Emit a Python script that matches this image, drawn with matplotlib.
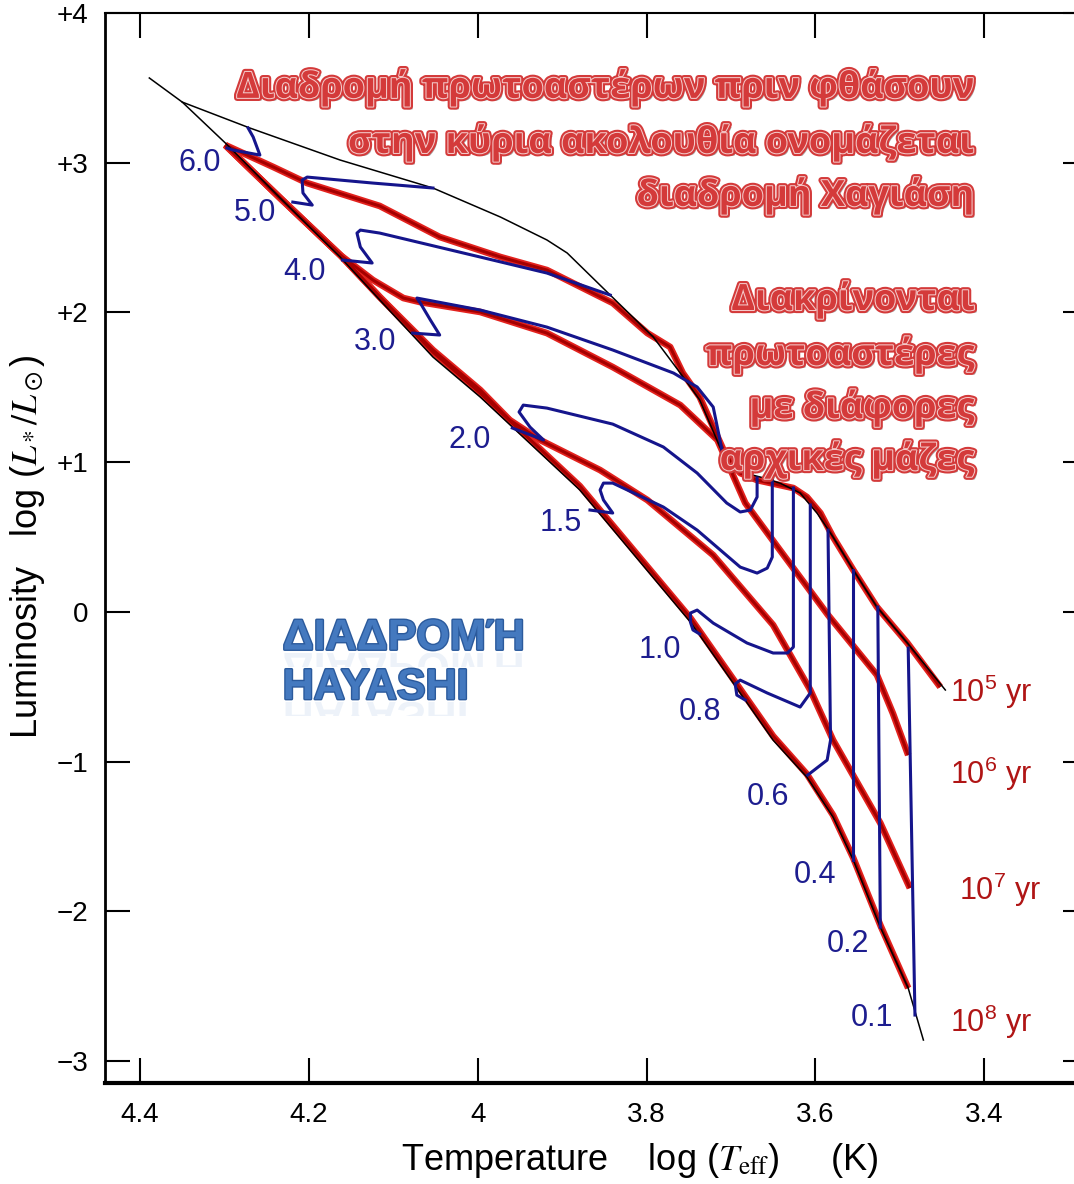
import matplotlib
matplotlib.use('Agg')
import matplotlib.pyplot as plt
import matplotlib.patheffects as pe
from matplotlib.textpath import TextPath
from matplotlib.patches import PathPatch, Rectangle
from matplotlib.font_manager import FontProperties
import matplotlib.transforms as mtransforms

plt.rcParams['font.family'] = ['Liberation Sans', 'DejaVu Sans']
plt.rcParams['mathtext.fontset'] = 'stix'

# birthline (upper envelope) and ZAMS (lower envelope), log Teff / log L
birth_logT = [4.350, 4.270, 4.163, 4.053, 3.973, 3.918, 3.894, 3.843, 3.792, 3.760, 3.737,
              3.713, 3.697, 3.665, 3.642, 3.618, 3.598, 3.579, 3.555, 3.527, 3.491, 3.446]
birth_logL = [3.405, 3.232, 3.018, 2.831, 2.637, 2.484, 2.397, 2.116, 1.836, 1.595, 1.415,
              1.101, 0.947, 0.900, 0.860, 0.794, 0.660, 0.500, 0.279, 0.032, -0.208, -0.522]

zams_logT = [4.389, 4.350, 4.299, 4.234, 4.163, 4.116, 4.053, 3.997, 3.879, 3.748, 3.689,
             3.650, 3.610, 3.579, 3.555, 3.523, 3.490, 3.472]
zams_logL = [3.566, 3.405, 3.132, 2.764, 2.370, 2.083, 1.702, 1.435, 0.814, -0.068, -0.542,
             -0.857, -1.104, -1.371, -1.658, -2.106, -2.513, -2.860]

# isochrones
iso5_logT = [4.299, 4.242, 4.202, 4.116, 4.045, 3.973, 3.918, 3.840, 3.799, 3.772, 3.757, 3.737,
             3.721, 3.705, 3.689, 3.669, 3.626, 3.610, 3.594, 3.579, 3.555, 3.527, 3.491, 3.452]
iso5_logL = [3.118, 2.971, 2.864, 2.711, 2.504, 2.370, 2.283, 2.063, 1.862, 1.769, 1.595, 1.435,
             1.234, 1.034, 0.927, 0.880, 0.827, 0.767, 0.660, 0.500, 0.279, 0.032, -0.208, -0.502]

iso6_logT = [4.299, 4.234, 4.163, 4.124, 4.088, 4.068, 3.997, 3.918, 3.840, 3.760, 3.716,
             3.683, 3.642, 3.585, 3.527, 3.508, 3.490]
iso6_logL = [3.118, 2.764, 2.384, 2.216, 2.096, 2.069, 2.003, 1.862, 1.635, 1.381, 1.148,
             0.727, 0.413, -0.021, -0.422, -0.680, -0.957]

iso7_logT = [4.299, 4.234, 4.163, 4.116, 4.053, 3.997, 3.962, 3.926, 3.855, 3.799, 3.721,
             3.650, 3.606, 3.579, 3.523, 3.488]
iso7_logL = [3.118, 2.764, 2.384, 2.103, 1.749, 1.482, 1.281, 1.148, 0.947, 0.747, 0.379,
             -0.088, -0.522, -0.857, -1.411, -1.845]

iso8_logT = [4.299, 4.234, 4.163, 4.116, 4.053, 3.997, 3.879, 3.748, 3.689, 3.650, 3.610,
             3.579, 3.555, 3.523, 3.490]
iso8_logL = [3.118, 2.764, 2.384, 2.103, 1.735, 1.462, 0.840, -0.041, -0.516, -0.830, -1.084,
             -1.358, -1.645, -2.093, -2.513]

iso_names = ['$\\mathregular{10^5}$ yr', '$\\mathregular{10^6}$ yr',
             '$\\mathregular{10^7}$ yr', '$\\mathregular{10^8}$ yr']
iso_label_T = [3.440, 3.440, 3.430, 3.440]
iso_label_L = [-0.536, -1.084, -1.858, -2.740]

# pre-main-sequence tracks (solar masses)
t60_T = [4.272, 4.266, 4.258, 4.290, 4.297]
t60_L = [3.232, 3.172, 3.051, 3.085, 3.098]
t50_T = [4.053, 4.124, 4.202, 4.208, 4.207, 4.196, 4.219]
t50_L = [2.831, 2.864, 2.904, 2.884, 2.798, 2.717, 2.737]
t40_T = [3.843, 3.918, 3.997, 4.116, 4.139, 4.143, 4.139, 4.125, 4.160]
t40_L = [2.116, 2.263, 2.370, 2.530, 2.550, 2.530, 2.437, 2.330, 2.350]
t30_T = [3.709, 3.713, 3.721, 3.740, 3.768, 3.840, 3.918, 3.997, 4.072, 4.068, 4.056, 4.045, 4.077]
t30_L = [1.034, 1.148, 1.368, 1.502, 1.595, 1.749, 1.902, 2.016, 2.096, 2.063, 1.949, 1.849, 1.862]
t20_T = [3.669, 3.669, 3.677, 3.689, 3.705, 3.740, 3.780, 3.840, 3.918, 3.946, 3.951, 3.938, 3.922, 3.959]
t20_L = [0.894, 0.767, 0.680, 0.667, 0.727, 0.927, 1.101, 1.254, 1.361, 1.381, 1.335, 1.234, 1.148, 1.228]
t15_T = [3.651, 3.651, 3.657, 3.669, 3.689, 3.740, 3.780, 3.840, 3.851, 3.855, 3.851, 3.840, 3.867]
t15_L = [0.880, 0.366, 0.292, 0.259, 0.299, 0.546, 0.700, 0.860, 0.860, 0.814, 0.747, 0.660, 0.680]
t10_T = [3.626, 3.626, 3.633, 3.650, 3.681, 3.721, 3.740, 3.748, 3.748, 3.745, 3.737]
t10_L = [0.827, -0.235, -0.275, -0.275, -0.208, -0.075, 0.012, -0.008, -0.068, -0.121, -0.148]
t08_T = [3.606, 3.606, 3.618, 3.657, 3.689, 3.695, 3.693, 3.683]
t08_L = [0.714, -0.542, -0.636, -0.542, -0.456, -0.482, -0.556, -0.589]
t06_T = [3.585, 3.582, 3.586, 3.609]
t06_L = [0.546, -0.857, -0.990, -1.090]
t04_T = [3.555, 3.555]
t04_L = [0.279, -1.658]
t02_T = [3.526, 3.523]
t02_L = [0.032, -2.106]
t01_T = [3.490, 3.482]
t01_L = [-0.242, -2.693]

mass_labels = ['6.0', '5.0', '4.0', '3.0', '2.0', '1.5', '1.0', '0.8', '0.6', '0.4', '0.2', '0.1']
mass_label_T = [4.329, 4.264, 4.205, 4.122, 4.009, 3.902, 3.784, 3.737, 3.656, 3.600, 3.561, 3.533]
mass_label_L = [3.000, 2.664, 2.270, 1.802, 1.148, 0.593, -0.255, -0.669, -1.237, -1.758, -2.219, -2.713]

note_lines = ['Διαδρομή πρωτοαστέρων πριν φθάσουν', 'στην κύρια ακολουθία ονομάζεται',
              'διαδρομή Χαγιάση', 'Διακρίνονται', 'πρωτοαστέρες', 'με διάφορες', 'αρχικές μάζες']
note_L = [3.500, 3.132, 2.778, 2.083, 1.715, 1.361, 1.014]

hayashi_lines = ['ΔΙΑΔΡΟΜΉ', 'HAYASHI']
hayashi_base_L = [-0.252, -0.582]

fig = plt.figure(figsize=(10.74, 11.84), dpi=100)
ax = fig.add_axes([105 / 1074, 101 / 1184, 983 / 1074, 1070 / 1184])
ax.set_xlim(4.4415, 3.277)
ax.set_ylim(-3.147, 4.0)

red_out, red_in = '#e3221e', '#a50000'
for T, L in [(iso5_logT, iso5_logL), (iso6_logT, iso6_logL),
             (iso7_logT, iso7_logL), (iso8_logT, iso8_logL)]:
    ax.plot(T, L, color=red_out, lw=4.8, solid_capstyle='butt', solid_joinstyle='round', zorder=2)
    ax.plot(T, L, color=red_in, lw=2.2, solid_capstyle='butt', solid_joinstyle='round', zorder=2.1)

ax.plot(birth_logT, birth_logL, color='black', lw=1.1, zorder=3)
ax.plot(zams_logT, zams_logL, color='black', lw=1.1, zorder=3)

blue = '#15158c'
for T, L in [(t60_T, t60_L), (t50_T, t50_L), (t40_T, t40_L), (t30_T, t30_L),
             (t20_T, t20_L), (t15_T, t15_L), (t10_T, t10_L), (t08_T, t08_L),
             (t06_T, t06_L), (t04_T, t04_L), (t02_T, t02_L), (t01_T, t01_L)]:
    ax.plot(T, L, color=blue, lw=2.2, solid_joinstyle='round', zorder=4)

for s, x, y in zip(mass_labels, mass_label_T, mass_label_L):
    ax.text(x, y, s, color='#1d1d8f', fontsize=22, ha='center', va='center', zorder=6)

for s, x, y in zip(iso_names, iso_label_T, iso_label_L):
    ax.text(x, y, s, color='#b01515', fontsize=22, ha='left', va='center', zorder=6)

# red commentary
red_fx = [pe.SimplePatchShadow(offset=(2, -2), shadow_rgbFace='#404040', alpha=0.45),
          pe.Stroke(linewidth=4.5, foreground='#d43a3a'),
          pe.Stroke(linewidth=1.5, foreground='#f4caca'),
          pe.Normal()]
for s, y in zip(note_lines, note_L):
    ax.text(3.411, y, s, color='#d43a3a', fontsize=26, fontweight='bold',
            family=['Open Sans', 'DejaVu Sans'], ha='right', va='center',
            path_effects=red_fx, zorder=7)

# Hayashi word-art with a faint reflection
blue_fx = [pe.Stroke(linewidth=2, foreground='#2b5a9c'), pe.Normal()]
hp = FontProperties(family='Liberation Sans', weight='bold', size=31)
scale = fig.dpi / 72.0
for s, yb in zip(hayashi_lines, hayashi_base_L):
    ax.text(4.231, yb, s, color='#4479bf', fontproperties=hp, ha='left', va='baseline',
            path_effects=blue_fx, zorder=7)
    bx, by = ax.transData.transform((4.231, yb))
    tp = TextPath((0, 0), s, prop=hp)
    tr = mtransforms.Affine2D().scale(scale, -scale).translate(bx, by - 3)
    refl = PathPatch(tp, transform=tr, facecolor='#8fb2de', edgecolor='none', alpha=0.16, zorder=6)
    clip = Rectangle((bx - 5, by - 17), 320, 14, transform=mtransforms.IdentityTransform())
    refl.set_clip_path(clip)
    fig.add_artist(refl)

ax.set_xticks([4.4, 4.2, 4.0, 3.8, 3.6, 3.4])
ax.set_xticklabels(['4.4', '4.2', '4', '3.8', '3.6', '3.4'])
ax.set_yticks([-3, -2, -1, 0, 1, 2, 3, 4])
ax.set_yticklabels(['\u22123', '\u22122', '\u22121', '0', '+1', '+2', '+3', '+4'])
ax.tick_params(direction='in', length=18, width=1.5, top=True, right=True, labelsize=20)
ax.tick_params(axis='x', pad=14)
ax.tick_params(axis='y', pad=12)
ax.spines['left'].set_linewidth(2)
ax.spines['bottom'].set_linewidth(3)
ax.spines['top'].set_linewidth(1.5)

fig.text(28 / 1074, 1 - 547 / 1184, 'Luminosity   log ($L_*/L_\\odot$)', rotation=90,
         fontsize=26, ha='center', va='center')
fig.text(640 / 1074, 1 - 1160 / 1184, 'Temperature    log ($T_{\\rm eff}$)     (K)',
         fontsize=26, ha='center', va='center')

fig.savefig('out.png', dpi=100)
